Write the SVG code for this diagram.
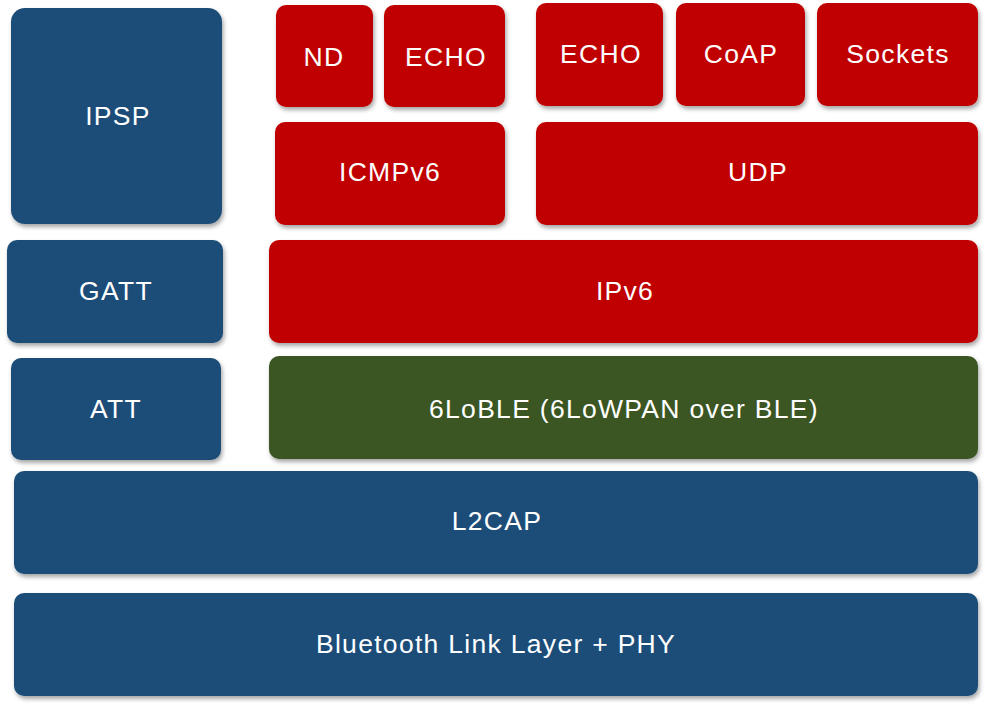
<svg xmlns="http://www.w3.org/2000/svg" width="985" height="707" viewBox="0 0 985 707">
<defs>
<filter id="sh" x="-10%" y="-10%" width="120%" height="130%">
<feDropShadow dx="1.5" dy="3" stdDeviation="2" flood-color="#000" flood-opacity="0.35"/>
</filter>
<style>
rect{filter:url(#sh)}
.b{fill:#1F4E79}
.r{fill:#C00000}
.g{fill:#3A5724}
text{font-family:"Liberation Sans",Arial,sans-serif;font-size:26.5px;letter-spacing:1.3px;fill:#fff;text-anchor:middle}
</style>
</defs>
<rect width="985" height="707" fill="#fff" style="filter:none"/>
<g id="ipsp"><rect class="b" x="11" y="8" width="211" height="216" rx="14"/><text x="118" y="125">IPSP</text></g>
<g id="nd"><rect class="r" x="276" y="5" width="97" height="102" rx="10"/><text x="324" y="66">ND</text></g>
<g id="echo1"><rect class="r" x="384" y="5" width="121" height="102" rx="10"/><text x="446" y="66">ECHO</text></g>
<g id="echo2"><rect class="r" x="536" y="3" width="127" height="103" rx="10"/><text x="601" y="63">ECHO</text></g>
<g id="coap"><rect class="r" x="676" y="3" width="129" height="103" rx="10"/><text x="741" y="63">CoAP</text></g>
<g id="sockets"><rect class="r" x="817" y="3" width="161" height="103" rx="10"/><text x="898" y="63">Sockets</text></g>
<g id="icmpv6"><rect class="r" x="275" y="122" width="230" height="103" rx="10"/><text x="390" y="181">ICMPv6</text></g>
<g id="udp"><rect class="r" x="536" y="122" width="442" height="103" rx="10"/><text x="758" y="181">UDP</text></g>
<g id="gatt"><rect class="b" x="7" y="240" width="216" height="103" rx="10"/><text x="116" y="300">GATT</text></g>
<g id="ipv6"><rect class="r" x="269" y="240" width="709" height="103" rx="10"/><text x="625" y="300">IPv6</text></g>
<g id="att"><rect class="b" x="11" y="358" width="210" height="102" rx="10"/><text x="116" y="418">ATT</text></g>
<g id="loble"><rect class="g" x="269" y="356" width="709" height="103" rx="10"/><text x="624" y="418">6LoBLE (6LoWPAN over BLE)</text></g>
<g id="l2cap"><rect class="b" x="14" y="471" width="964" height="103" rx="10"/><text x="497" y="530">L2CAP</text></g>
<g id="phy"><rect class="b" x="14" y="593" width="964" height="103" rx="10"/><text x="496" y="653">Bluetooth Link Layer + PHY</text></g>
<g id="connectors"></g>
</svg>
